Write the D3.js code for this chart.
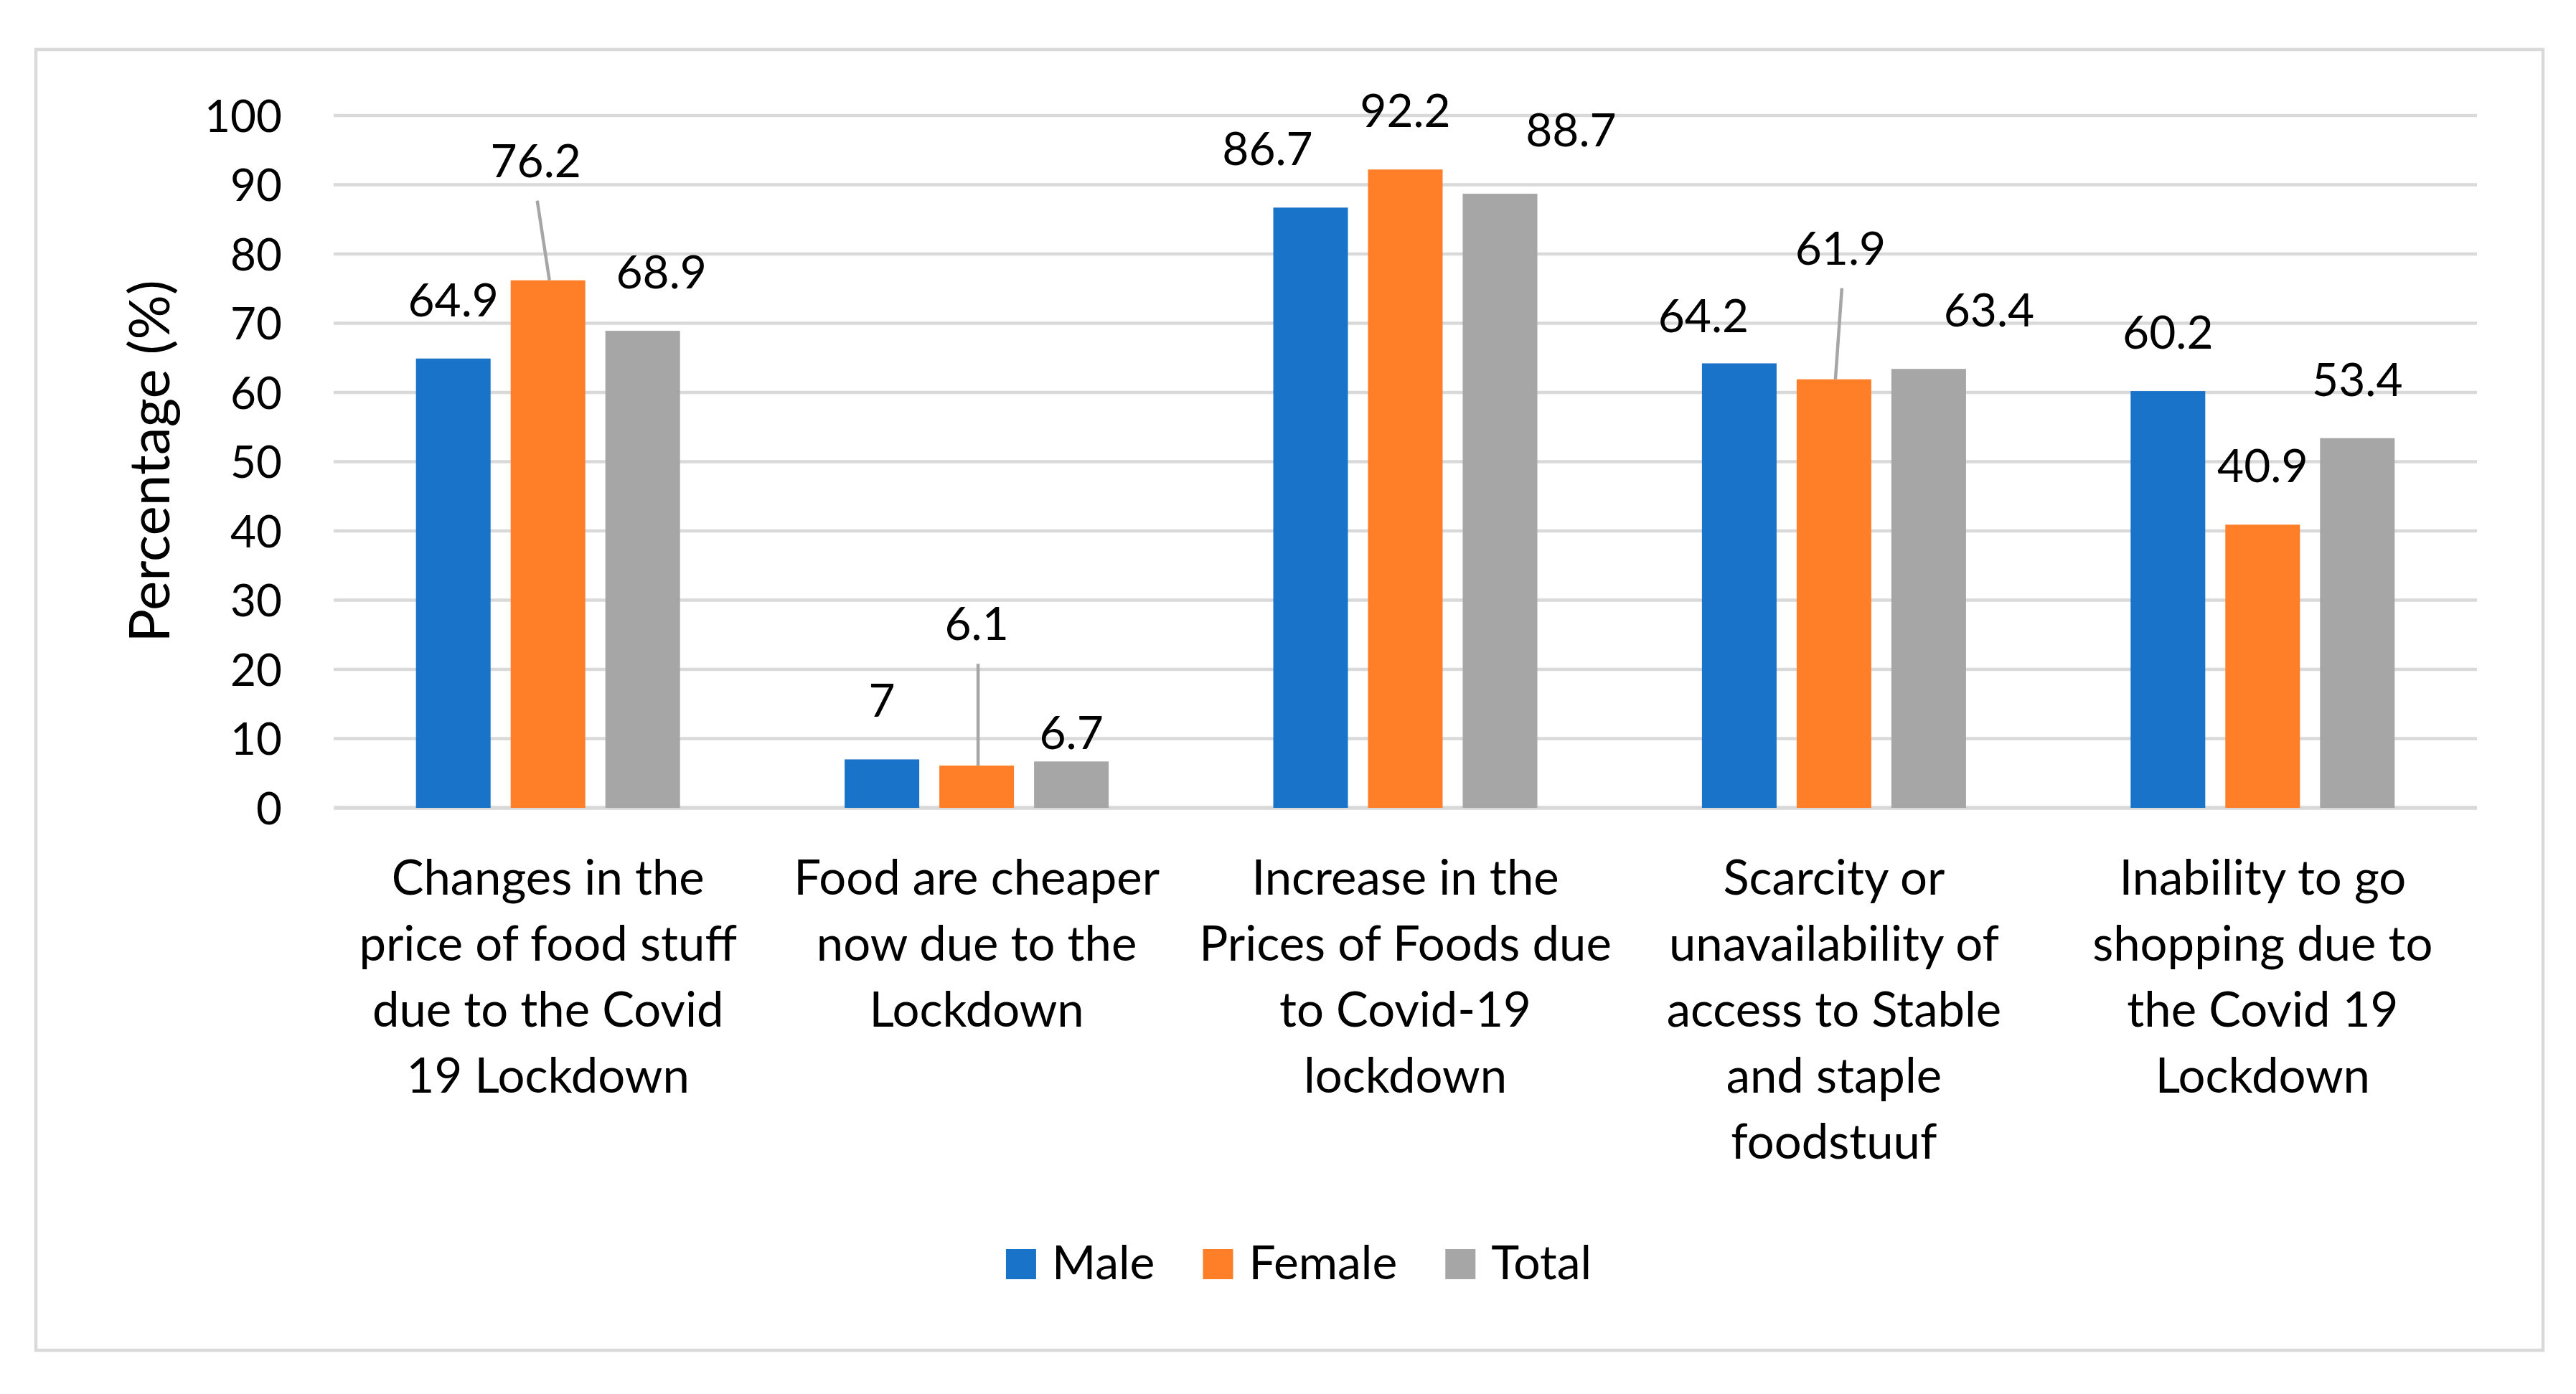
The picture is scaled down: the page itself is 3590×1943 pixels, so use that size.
<!DOCTYPE html>
<html>
<head>
<meta charset="utf-8">
<script src="https://cdn.jsdelivr.net/npm/d3@7"></script>
<style>
  body { margin: 0; background: #fff; }
  text { font-family: Lato, 'Open Sans', sans-serif; fill: #000; }
</style>
</head>
<body>
<div id="chart"></div>
<script>
let categories = [
  ['Changes in the', 'price of food stuff', 'due to the Covid', '19 Lockdown'],
  ['Food are cheaper', 'now due to the', 'Lockdown'],
  ['Increase in the', 'Prices of Foods due', 'to Covid-19', 'lockdown'],
  ['Scarcity or', 'unavailability of', 'access to Stable', 'and staple', 'foodstuuf'],
  ['Inability to go', 'shopping due to', 'the Covid 19', 'Lockdown']
]
let seriesNames = ['Male', 'Female', 'Total']
let male = [64.9, 7, 86.7, 64.2, 60.2]
let female = [76.2, 6.1, 92.2, 61.9, 40.9]
let total = [68.9, 6.7, 88.7, 63.4, 53.4]
let yTicks = [0, 10, 20, 30, 40, 50, 60, 70, 80, 90, 100]

// hand-moved data labels in the original (pixels), and which ones got a leader line
let labelNudge = {
  Male: [[0, 0], [0, 0], [-60, 0], [-50, 16], [0, 0]],
  Female: [[-17, -85], [0, -116], [0, 0], [9, -101], [0, 0]],
  Total: [[26, 0], [0, 42], [99, -7], [84, 0], [0, 0]]
}
let leaders = { Female: [0, 1, 3] }

let colors = { Male: '#1973c8', Female: '#fe7f27', Total: '#a6a6a6' }

let width = 3590
let height = 1943
let plot = { left: 465, right: 3452, top: 161, bottom: 1126 }

let svg = d3.select('#chart')
  .append('svg')
  .attr('width', width)
  .attr('height', height)

// chart frame
svg.append('rect')
  .attr('x', 50).attr('y', 69)
  .attr('width', 3494).attr('height', 1813)
  .attr('fill', '#fff')
  .attr('stroke', '#d9d9d9')
  .attr('stroke-width', 4.5)

let catIndex = categories.map((d, i) => i)

let x0 = d3.scaleBand()
  .domain(catIndex)
  .range([plot.left, plot.right])

let x1 = d3.scaleBand()
  .domain(seriesNames)
  .range([-184, 184])
  .paddingInner(0.212)

let y = d3.scaleLinear()
  .domain([0, 100])
  .range([plot.bottom, plot.top])

// gridlines
svg.append('g')
  .selectAll('line')
  .data(yTicks)
  .enter()
  .append('line')
  .attr('x1', plot.left)
  .attr('x2', plot.right)
  .attr('y1', d => y(d))
  .attr('y2', d => y(d))
  .attr('stroke', '#d9d9d9')
  .attr('stroke-width', d => (d === 0 ? 5.5 : 4.5))
  .lower()

svg.select('rect').lower()

// y axis labels
let yAxis = svg.append('g')
  .attr('transform', `translate(${plot.left},0)`)
  .call(d3.axisLeft(y).tickValues(yTicks).tickSize(0).tickPadding(72))
yAxis.select('.domain').remove()
yAxis.selectAll('text')
  .attr('font-size', 62)
  .attr('dy', '0.36em')
  .style('font-family', 'Lato')
  .attr('fill', '#000')

svg.append('text')
  .attr('transform', 'translate(236,643) rotate(-90)')
  .attr('text-anchor', 'middle')
  .attr('font-size', 78)
  .text('Percentage (%)')

let series = [
  { name: 'Male', values: male },
  { name: 'Female', values: female },
  { name: 'Total', values: total }
]

let barCenter = (s, i) => x0(i) + x0.bandwidth() / 2 + x1(s) + x1.bandwidth() / 2

series.forEach(s => {
  let g = svg.append('g').attr('class', 'series-' + s.name)

  g.selectAll('rect')
    .data(s.values)
    .enter()
    .append('rect')
    .attr('x', (d, i) => x0(i) + x0.bandwidth() / 2 + x1(s.name))
    .attr('width', x1.bandwidth())
    .attr('y', d => y(d))
    .attr('height', d => y(0) - y(d))
    .attr('fill', colors[s.name])

  g.selectAll('text')
    .data(s.values)
    .enter()
    .append('text')
    .attr('text-anchor', 'middle')
    .attr('font-size', 64)
    .attr('x', (d, i) => barCenter(s.name, i) + labelNudge[s.name][i][0])
    .attr('y', (d, i) => y(d) - 59 + labelNudge[s.name][i][1])
    .text(d => d)

  let lead = leaders[s.name] || []
  g.selectAll('line')
    .data(lead)
    .enter()
    .append('line')
    .attr('x1', i => barCenter(s.name, i) + labelNudge[s.name][i][0] + 2)
    .attr('y1', i => y(s.values[i]) - 59 + labelNudge[s.name][i][1] + 33)
    .attr('x2', i => barCenter(s.name, i) + 2)
    .attr('y2', i => y(s.values[i]))
    .attr('stroke', '#a6a6a6')
    .attr('stroke-width', 4.5)
})

// category labels
svg.append('g')
  .selectAll('text')
  .data(categories)
  .enter()
  .append('text')
  .attr('text-anchor', 'middle')
  .attr('font-size', 67)
  .attr('transform', (d, i) => `translate(${x0(i) + x0.bandwidth() / 2},1247)`)
  .each(function(lines) {
    let t = d3.select(this)
    lines.forEach((line, k) => {
      t.append('tspan')
        .attr('x', 0)
        .attr('y', k * 92)
        .text(line)
    })
  })

// legend
let legend = svg.append('g')
let cursor = 0
seriesNames.forEach((name, i) => {
  let item = legend.append('g').attr('transform', `translate(${cursor},0)`)
  item.append('rect')
    .attr('x', 0).attr('y', -42)
    .attr('width', 42).attr('height', 42)
    .attr('fill', colors[name])
  let t = item.append('text')
    .attr('x', 64)
    .attr('y', 0)
    .attr('font-size', 66)
    .text(name)
  cursor += 64 + t.node().getComputedTextLength() + 67
})
let legendWidth = cursor - 67
legend.attr('transform', `translate(${1810 - legendWidth / 2},1783)`)
</script>
</body>
</html>
